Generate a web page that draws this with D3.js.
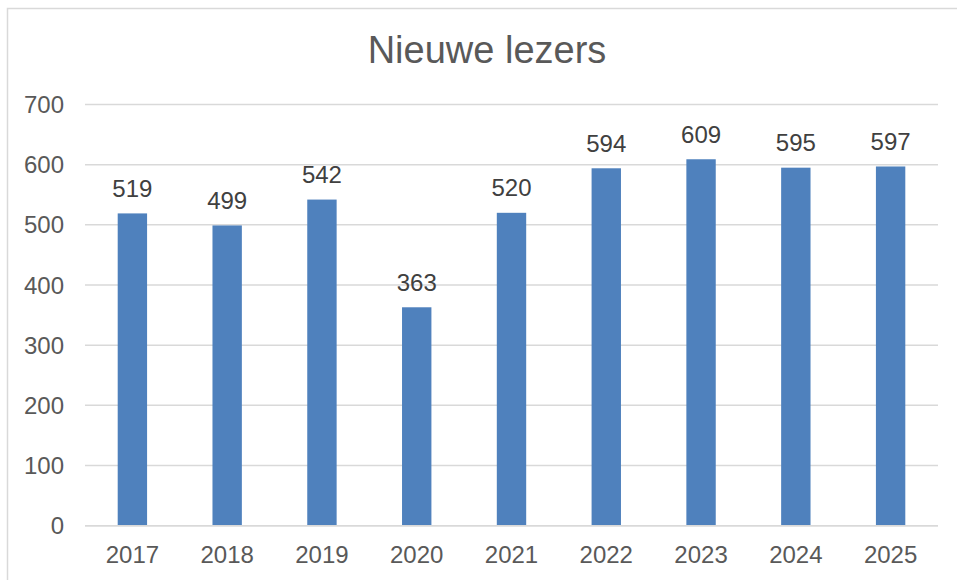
<!DOCTYPE html>
<html>
<head>
<meta charset="utf-8">
<script src="https://cdn.jsdelivr.net/npm/d3@7"></script>
<style>
  body { margin: 0; background: #fff; }
  svg { font-family: "Liberation Sans", Arial, sans-serif; }
</style>
</head>
<body>
<div id="chart"></div>
<script>
var years = ["2017", "2018", "2019", "2020", "2021", "2022", "2023", "2024", "2025"];
var readers = [519, 499, 542, 363, 520, 594, 609, 595, 597];
var yTicks = [0, 100, 200, 300, 400, 500, 600, 700];
var title = "Nieuwe lezers";

var W = 957, H = 580;
var margin = { top: 104.5, right: 19, bottom: 54.3, left: 85 };

var svg = d3.select("#chart").append("svg")
  .attr("width", W)
  .attr("height", H);

// outer frame (right and bottom edges fall outside the picture)
svg.append("rect")
  .attr("x", 7.5).attr("y", 8.5)
  .attr("width", W + 10).attr("height", H + 10)
  .attr("fill", "none")
  .attr("stroke", "#d9d9d9")
  .attr("stroke-width", 1.5);

var x = d3.scaleBand()
  .domain(years)
  .range([margin.left, W - margin.right])
  .paddingInner(0.69)
  .paddingOuter(0.345);

var y = d3.scaleLinear()
  .domain([0, 700])
  .range([H - margin.bottom, margin.top]);

// gridlines
svg.append("g").selectAll("line")
  .data(yTicks)
  .enter().append("line")
  .attr("x1", margin.left)
  .attr("x2", W - margin.right)
  .attr("y1", d => y(d))
  .attr("y2", d => y(d))
  .attr("stroke", "#d9d9d9")
  .attr("stroke-width", 1.5);

// y labels
svg.append("g").selectAll("text")
  .data(yTicks)
  .enter().append("text")
  .attr("x", 64)
  .attr("y", d => y(d) + 8.5)
  .attr("text-anchor", "end")
  .attr("font-size", "24px")
  .attr("fill", "#595959")
  .text(d => d);

// bars
svg.append("g").selectAll("rect")
  .data(readers)
  .enter().append("rect")
  .attr("x", (d, i) => x(years[i]))
  .attr("y", d => y(d))
  .attr("width", x.bandwidth())
  .attr("height", d => y(0) - y(d))
  .attr("fill", "#4f81bd");

// baseline over the bars
svg.append("line")
  .attr("x1", margin.left)
  .attr("x2", W - margin.right)
  .attr("y1", y(0))
  .attr("y2", y(0))
  .attr("stroke", "#d9d9d9")
  .attr("stroke-width", 1.5);

// value labels
svg.append("g").selectAll("text")
  .data(readers)
  .enter().append("text")
  .attr("x", (d, i) => x(years[i]) + x.bandwidth() / 2)
  .attr("y", d => y(d) - 16.5)
  .attr("text-anchor", "middle")
  .attr("font-size", "24px")
  .attr("fill", "#404040")
  .text(d => d);

// x labels
svg.append("g").selectAll("text")
  .data(years)
  .enter().append("text")
  .attr("x", d => x(d) + x.bandwidth() / 2)
  .attr("y", 563)
  .attr("text-anchor", "middle")
  .attr("font-size", "24px")
  .attr("fill", "#595959")
  .text(d => d);

svg.append("text")
  .attr("x", 487)
  .attr("y", 62.7)
  .attr("text-anchor", "middle")
  .attr("font-size", "38px")
  .attr("fill", "#595959")
  .text(title);
</script>
</body>
</html>
